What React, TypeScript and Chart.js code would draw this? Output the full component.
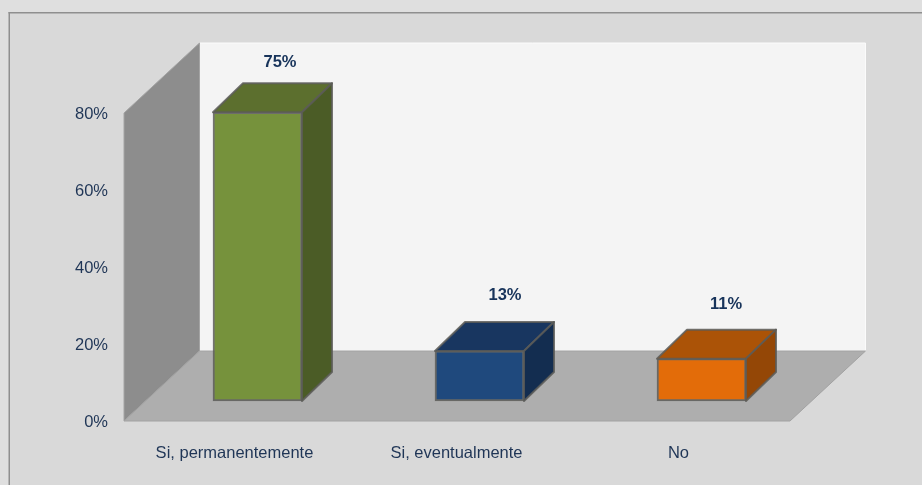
import React, { useEffect, useRef } from "react";
import { Chart, registerables } from "chart.js";

Chart.register(...registerables);

const categories = ["Si, permanentemente", "Si, eventualmente", "No"];
const values = [75, 13, 11];
const frontColors = ["#76923c", "#1f497d", "#e36c09"];
const topColors = ["#5c6f2e", "#183660", "#ab5307"];
const sideColors = ["#4b5c26", "#132d50", "#944706"];
const yTicks = [0, 20, 40, 60, 80];

const TEXT = "#1f3556";
const EDGE = "rgba(92,92,88,0.85)";
const FONT = "'Liberation Sans', Arial, sans-serif";
const BAR_SHIFT = { x: 22.5, y: -20 };
const DEPTH = { x: 30, y: -29 };
const FLOOR = { x: 75.5, y: -70 };
const LABEL_DX = [45, 48, 47];
const LABEL_DY = [-70, -75, -74];

const scene3d = {
  id: "scene3d",
  beforeDraw(chart: any) {
    const { ctx, chartArea: a, width, height } = chart;
    ctx.save();
    ctx.fillStyle = "#dfdfdf";
    ctx.fillRect(0, 0, width, height);
    ctx.fillStyle = "#d9d9d9";
    ctx.fillRect(9, 12, width - 9, height - 12);
    ctx.fillStyle = "#8f8f8f";
    ctx.fillRect(8.5, 12, width - 8.5, 1.5);
    ctx.fillRect(8.5, 12, 1.5, height - 12);

    const backTop = a.top - 70;
    const poly = (pts: number[][], fill: string, stroke?: string) => {
      ctx.beginPath();
      pts.forEach(([x, y], i) => (i ? ctx.lineTo(x, y) : ctx.moveTo(x, y)));
      ctx.closePath();
      ctx.fillStyle = fill;
      ctx.fill();
      if (stroke) {
        ctx.lineWidth = 1;
        ctx.strokeStyle = stroke;
        ctx.stroke();
      }
    };
    const bx = a.left + FLOOR.x;
    const rx = a.right + FLOOR.x;
    const by = a.bottom + FLOOR.y;
    poly([[bx, backTop], [rx, backTop], [rx, by], [bx, by]], "#f4f4f4", "#fbfbfb");
    poly([[a.left, a.top], [bx, backTop], [bx, by], [a.left, a.bottom]], "#8d8d8d", "#a4a4a4");
    poly([[a.left, a.bottom], [bx, by], [rx, by], [a.right, a.bottom]], "#aeaeae", "#a2a2a2");
    ctx.restore();
  },
  beforeDatasetDraw(chart: any) {
    chart.ctx.save();
    chart.ctx.translate(BAR_SHIFT.x, BAR_SHIFT.y);
  },
  afterDatasetDraw(chart: any) {
    const { ctx } = chart;
    const meta = chart.getDatasetMeta(0);
    ctx.lineWidth = 2;
    ctx.strokeStyle = EDGE;
    ctx.lineJoin = "round";
    meta.data.forEach((el: any, i: number) => {
      const { x, y, base, width } = el.getProps(["x", "y", "base", "width"], true);
      const l = x - width / 2;
      const r = x + width / 2;
      const face = (pts: number[][], fill: string) => {
        ctx.beginPath();
        pts.forEach(([px, py], k) => (k ? ctx.lineTo(px, py) : ctx.moveTo(px, py)));
        ctx.closePath();
        ctx.fillStyle = fill;
        ctx.fill();
        ctx.stroke();
      };
      face([[l, y], [l + DEPTH.x, y + DEPTH.y], [r + DEPTH.x, y + DEPTH.y], [r, y]], topColors[i]);
      face([[r, y], [r + DEPTH.x, y + DEPTH.y], [r + DEPTH.x, base + DEPTH.y], [r, base]], sideColors[i]);
    });
    ctx.restore();

    ctx.save();
    ctx.fillStyle = "#17335a";
    ctx.font = `bold 16.5px ${FONT}`;
    ctx.textAlign = "center";
    ctx.textBaseline = "middle";
    meta.data.forEach((el: any, i: number) => {
      ctx.fillText(`${values[i]}%`, el.x + LABEL_DX[i], el.y + LABEL_DY[i]);
    });
    ctx.restore();
  },
};

export default function App() {
  const ref = useRef<HTMLCanvasElement>(null);
  useEffect(() => {
    document.body.style.margin = "0";
    const chart = new Chart(ref.current as HTMLCanvasElement, {
      type: "bar",
      data: {
        labels: categories,
        datasets: [
          {
            data: values,
            backgroundColor: frontColors,
            borderColor: EDGE,
            borderWidth: 2,
            borderSkipped: false,
            barThickness: 89,
            clip: false,
          } as any,
        ],
      },
      options: {
        responsive: false,
        animation: false,
        layout: { padding: { left: 0, top: 113, right: 132, bottom: 0 } },
        plugins: { legend: { display: false }, title: { display: false }, tooltip: { enabled: false } },
        scales: {
          x: {
            grid: { display: false, drawTicks: false },
            border: { display: false },
            afterFit: (s: any) => {
              s.height = 64;
            },
            ticks: { color: TEXT, font: { family: FONT, size: 16.5 }, padding: 23, maxRotation: 0, labelOffset: -0.5 },
          },
          y: {
            min: 0,
            max: 80,
            afterBuildTicks: (s: any) => {
              s.ticks = yTicks.map((value) => ({ value }));
            },
            grid: { display: false, drawTicks: false },
            border: { display: false },
            afterFit: (s: any) => {
              s.width = 124;
            },
            ticks: {
              color: TEXT,
              font: { family: FONT, size: 16.5 },
              padding: 16,
              labelOffset: 1.5,
              callback: (v: any) => `${v}%`,
            },
          },
        },
      },
      plugins: [scene3d],
    });
    return () => chart.destroy();
  }, []);
  return <canvas ref={ref} width={922} height={485} style={{ display: "block" }} />;
}
